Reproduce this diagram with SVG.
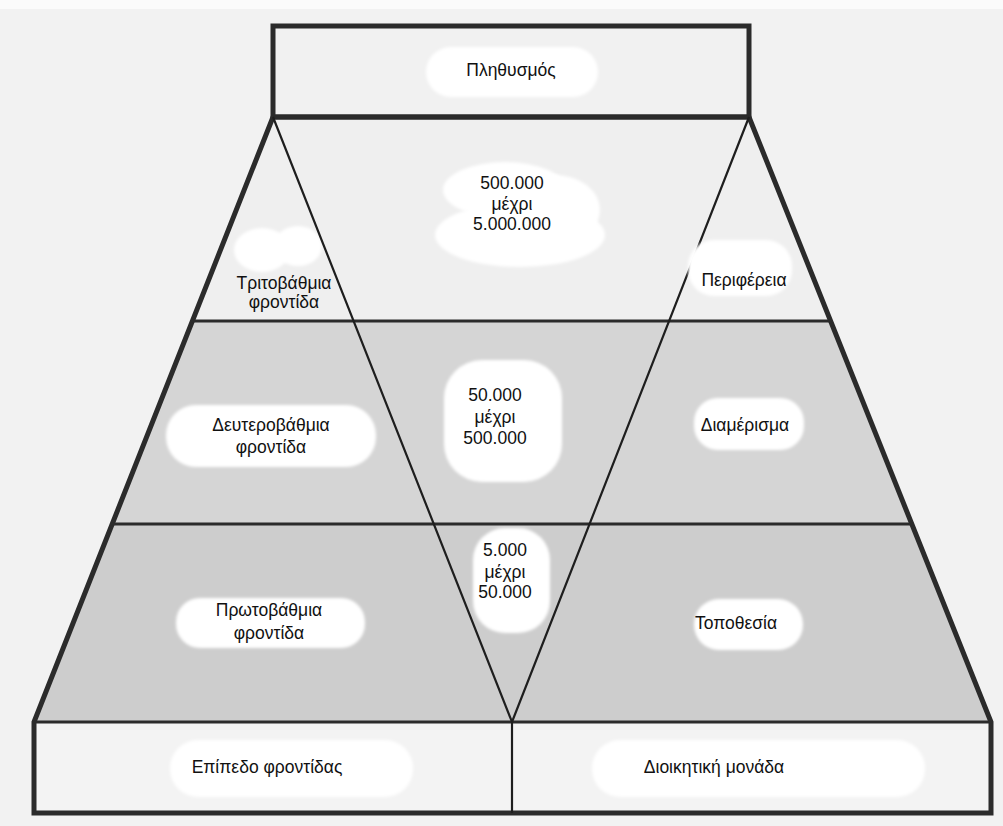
<svg xmlns="http://www.w3.org/2000/svg" width="1003" height="826" viewBox="0 0 1003 826">
<defs>
<filter id="soft" x="-10%" y="-10%" width="120%" height="120%"><feGaussianBlur stdDeviation="1.5"/></filter>
</defs>
<style>
.t{font-family:"Liberation Sans","DejaVu Sans",Arial,sans-serif;font-size:17.5px;fill:#111;text-anchor:middle}
.blob{fill:#ffffff;filter:url(#soft)}
.thick{stroke:#2b2b2b;stroke-width:5;fill:none;stroke-linejoin:miter}
.mid{stroke:#2b2b2b;stroke-width:3;fill:none}
.thin{stroke:#1e1e1e;stroke-width:2.2;fill:none}
</style>
<rect x="0" y="0" width="1003" height="826" fill="#f2f2f2"/>
<rect x="0" y="0" width="1003" height="9" fill="#fbfbfb"/>
<g id="fills">
<rect x="273" y="26" width="476" height="91" fill="#f1f1f1"/>
<polygon points="273,117 749,117 830,321 192,321" fill="#efefef"/>
<polygon points="192,321 830,321 910,524 112,524" fill="#d5d5d5"/>
<polygon points="112,524 910,524 991,722 34,722" fill="#cdcdcd"/>
<rect x="34" y="722" width="957" height="91" fill="#f3f3f3"/>
</g>
<g id="blob-extra"><ellipse class="blob" cx="262" cy="250" rx="28" ry="22"/><ellipse class="blob" cx="298" cy="246" rx="24" ry="20"/></g>
<g id="connectors">
<polygon class="thick" points="273,117 749,117 991,722 991,813 34,813 34,722"/>
<rect class="thick" x="273" y="26" width="476" height="91"/>
<line class="mid" x1="273" y1="117" x2="749" y2="117"/>
<line class="mid" x1="192" y1="321" x2="830" y2="321"/>
<line class="mid" x1="112" y1="524" x2="910" y2="524"/>
<line class="mid" x1="34" y1="722" x2="991" y2="722"/>
<polyline class="thin" points="273,117 512,722 749,117"/>
<line class="thin" x1="512" y1="722" x2="512" y2="813"/>
</g>
<g id="node-population"><rect class="blob" x="426" y="47" width="172" height="50" rx="25"/><text class="t" x="511" y="76">Πληθυσμός</text></g>
<g id="node-range-top"><ellipse class="blob" cx="505" cy="190" rx="62" ry="28"/><ellipse class="blob" cx="520" cy="235" rx="85" ry="32"/><ellipse class="blob" cx="555" cy="210" rx="45" ry="35"/><text class="t" x="512" y="189">500.000</text><text class="t" x="512" y="210">μέχρι</text><text class="t" x="512" y="230">5.000.000</text></g>
<g id="node-tertiary"><text class="t" x="284" y="289">Τριτοβάθμια</text><text class="t" x="284" y="308">φροντίδα</text></g>
<g id="node-region"><rect class="blob" x="688" y="240" width="104" height="56" rx="26"/><text class="t" x="744" y="286">Περιφέρεια</text></g>
<g id="node-secondary"><rect class="blob" x="166" y="405" width="210" height="62" rx="30"/><text class="t" x="271" y="431">Δευτεροβάθμια</text><text class="t" x="271" y="453">φροντίδα</text></g>
<g id="node-range-mid"><rect class="blob" x="444" y="360" width="118" height="122" rx="38"/><text class="t" x="495" y="401">50.000</text><text class="t" x="495" y="423">μέχρι</text><text class="t" x="495" y="444">500.000</text></g>
<g id="node-district"><rect class="blob" x="694" y="398" width="110" height="52" rx="24"/><text class="t" x="745" y="431">Διαμέρισμα</text></g>
<g id="node-range-low"><rect class="blob" x="473" y="528" width="77" height="105" rx="32"/><text class="t" x="505" y="556">5.000</text><text class="t" x="505" y="578">μέχρι</text><text class="t" x="505" y="598">50.000</text></g>
<g id="node-primary"><rect class="blob" x="176" y="598" width="189" height="50" rx="24"/><text class="t" x="269" y="616">Πρωτοβάθμια</text><text class="t" x="269" y="639">φροντίδα</text></g>
<g id="node-location"><rect class="blob" x="694" y="599" width="109" height="51" rx="25"/><text class="t" x="736" y="629">Τοποθεσία</text></g>
<g id="node-care-level"><rect class="blob" x="170" y="740" width="243" height="57" rx="28"/><text class="t" x="267" y="773">Επίπεδο φροντίδας</text></g>
<g id="node-admin-unit"><rect class="blob" x="592" y="740" width="333" height="57" rx="28"/><text class="t" x="714" y="773">Διοικητική μονάδα</text></g>
</svg>
